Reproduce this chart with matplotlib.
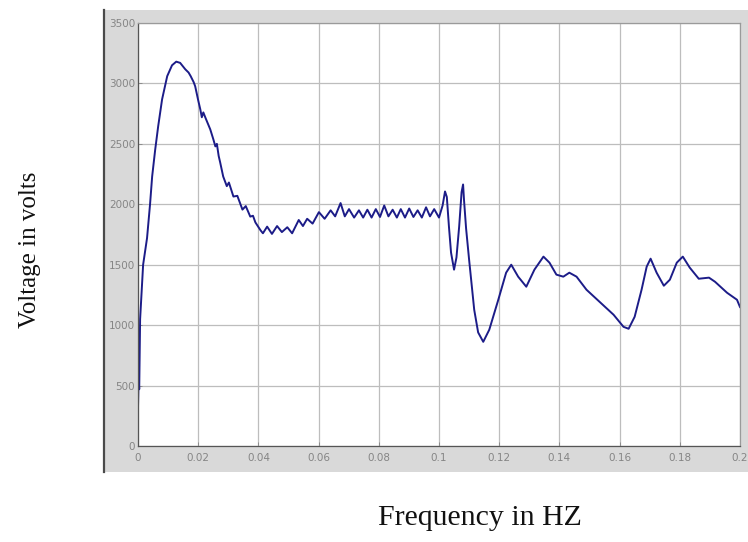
import matplotlib
matplotlib.use('Agg')
import matplotlib.pyplot as plt

# Simulated scope trace (time in s, voltage in V)
time_s = [0.0, 0.0002, 0.0004, 0.0007, 0.0017, 0.003, 0.004, 0.0047, 0.0057, 0.0067,
          0.008, 0.0097, 0.0113, 0.0127, 0.014, 0.0157, 0.0168, 0.0175, 0.018, 0.0185,
          0.019, 0.020, 0.0207, 0.0212, 0.0217, 0.0225, 0.024, 0.025, 0.0257, 0.0262,
          0.0268, 0.0273, 0.0283, 0.0295, 0.0302, 0.0317, 0.033, 0.0347, 0.0358, 0.0373,
          0.0382, 0.039, 0.0398, 0.0407, 0.0415, 0.0429, 0.0445, 0.0462, 0.0478, 0.0496,
          0.0512, 0.0534, 0.0548, 0.0562, 0.058, 0.0601, 0.062, 0.064, 0.0655, 0.0673,
          0.0687, 0.0701, 0.0718, 0.0734, 0.0748, 0.0762, 0.0776, 0.079, 0.0804, 0.0818,
          0.0832, 0.0846, 0.086, 0.0873, 0.0887, 0.0901, 0.0915, 0.0929, 0.0943, 0.0957,
          0.097, 0.0984, 0.1, 0.1012, 0.102, 0.1026, 0.1033, 0.104, 0.105, 0.1058,
          0.1067, 0.1075, 0.108, 0.1083, 0.109, 0.11, 0.1117, 0.113, 0.1147, 0.1167,
          0.118, 0.1197, 0.1223, 0.124, 0.1263, 0.129, 0.1317, 0.1347, 0.1367, 0.139,
          0.1413, 0.1433, 0.1457, 0.149, 0.1533, 0.158, 0.1613, 0.163, 0.165, 0.1673,
          0.169, 0.1703, 0.1723, 0.1747, 0.1767, 0.179, 0.181, 0.1833, 0.1863, 0.1897,
          0.1917, 0.1957, 0.199, 0.2]
volts = [320, 560, 470, 1050, 1500, 1720, 2000, 2230, 2450, 2645,
         2868, 3060, 3150, 3180, 3170, 3117, 3090, 3060, 3034, 3010,
         2976, 2860, 2785, 2720, 2760, 2710, 2620, 2540, 2479, 2500,
         2400, 2346, 2230, 2150, 2180, 2064, 2070, 1956, 1985, 1898,
         1905, 1850, 1820, 1785, 1760, 1815, 1755, 1820, 1770, 1810,
         1760, 1870, 1820, 1880, 1840, 1935, 1880, 1950, 1900, 2010,
         1900, 1960, 1890, 1950, 1890, 1955, 1890, 1960, 1895, 1990,
         1900, 1955, 1890, 1960, 1890, 1965, 1895, 1950, 1890, 1975,
         1900, 1960, 1890, 1990, 2106, 2060, 1816, 1600, 1459, 1560,
         1816, 2100, 2164, 2039, 1800, 1542, 1127, 940, 862, 962,
         1070, 1210, 1434, 1500, 1401, 1318, 1459, 1567, 1517, 1418,
         1401, 1434, 1401, 1293, 1194, 1086, 986, 970, 1069, 1293,
         1484, 1550, 1434, 1326, 1376, 1517, 1567, 1476, 1384, 1393,
         1359, 1268, 1210, 1150]

x_ticks = [0, 0.02, 0.04, 0.06, 0.08, 0.1, 0.12, 0.14, 0.16, 0.18, 0.2]
x_tick_labels = ['0', '0.02', '0.04', '0.06', '0.08', '0.1', '0.12', '0.14', '0.16', '0.18', '0.2']
y_ticks = [0, 500, 1000, 1500, 2000, 2500, 3000, 3500]
y_tick_labels = ['0', '500', '1000', '1500', '2000', '2500', '3000', '3500']

fig = plt.figure(figsize=(7.48, 5.42), dpi=100)
fig.patch.set_facecolor('white')

# grey scope frame behind the plot area
frame = fig.add_axes([0.139, 0.129, 0.861, 0.853], zorder=0)
frame.set_facecolor('#d9d9d9')
frame.set_xticks([])
frame.set_yticks([])
for side in ['top', 'right', 'bottom']:
    frame.spines[side].set_visible(False)
frame.spines['left'].set_color('#4a4a4a')
frame.spines['left'].set_linewidth(1.6)

ax = fig.add_axes([0.1845, 0.1771, 0.8048, 0.7805], zorder=1)
ax.set_facecolor('white')
ax.plot(time_s, volts, color='#1c1c88', linewidth=1.4)

ax.set_xlim(0, 0.2)
ax.set_ylim(0, 3500)
ax.set_xticks(x_ticks)
ax.set_xticklabels(x_tick_labels)
ax.set_yticks(y_ticks)
ax.set_yticklabels(y_tick_labels)
ax.tick_params(labelsize=7.5, colors='#858585', length=3, width=0.6, direction='in')
ax.tick_params(axis='x', pad=5)
ax.tick_params(axis='y', pad=2)
ax.grid(True, color='#bdbdbd', linewidth=0.9)
ax.set_axisbelow(True)
for side in ['left', 'bottom']:
    ax.spines[side].set_color('#555555')
    ax.spines[side].set_linewidth(0.9)
for side in ['top', 'right']:
    ax.spines[side].set_color('#9a9a9a')
    ax.spines[side].set_linewidth(0.9)

fig.text(0.040, 0.54, 'Voltage in volts', rotation=90, ha='center', va='center',
         fontsize=18, family='Liberation Serif', color='#111111')
fig.text(0.642, 0.044, 'Frequency in HZ', ha='center', va='center',
         fontsize=21.5, family='Liberation Serif', color='#111111')

fig.savefig('out.png', dpi=100, facecolor='white')
